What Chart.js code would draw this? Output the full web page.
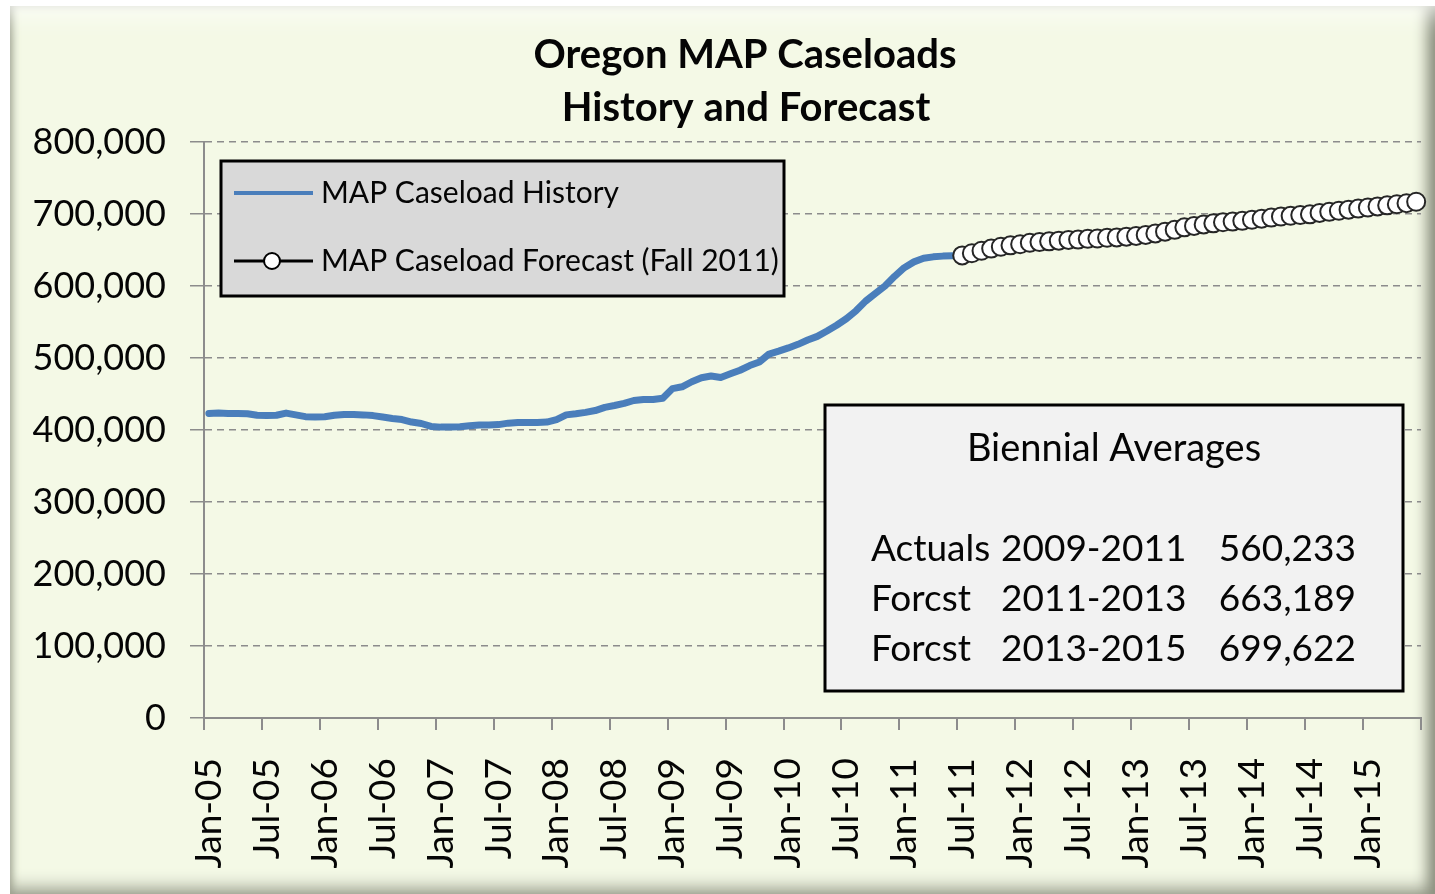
<!DOCTYPE html>
<html lang="en">
<head>
    <meta charset="UTF-8">
    <title>Oregon MAP Caseloads</title>
    <script src="https://cdn.jsdelivr.net/npm/chart.js"></script>
    <style>
        body {
            margin: 0;
            background: #ffffff;
            width: 1435px;
            height: 894px;
            overflow: hidden;
        }
        .frame {
            position: absolute;
            left: 10px;
            top: 6px;
            right: 0;
            bottom: 0;
            background: #f4f9e6;
            box-shadow: inset 0 34px 30px -30px #ffffff,
                        inset 5px 0 8px -3px #9a9e8c,
                        inset -14px 0 14px -6px #8a8e7e,
                        inset 0 -16px 16px -8px #aeb2a2;
        }
        canvas {
            position: absolute;
            left: 0;
            top: 0;
        }
    </style>
</head>
<body>
    <div class="frame"></div>
    <canvas id="caseChart" width="1435" height="894"></canvas>

    <script>
        // months shown on the category axis (Jan-05 .. Jun-15)
        const monthNames = ['Jan', 'Feb', 'Mar', 'Apr', 'May', 'Jun', 'Jul', 'Aug', 'Sep', 'Oct', 'Nov', 'Dec'];
        const yearCodes = ['05', '06', '07', '08', '09', '10', '11', '12', '13', '14', '15'];

        // MAP caseload history, Jan-05 .. Jun-11
        const historyValues = [
            423000, 423500, 423000, 423000, 422500, 420500, 420000, 420500, 423500, 421000, 418500, 418000,
            418500, 420500, 421500, 421500, 421000, 420000, 418000, 416000, 414500, 411000, 409000, 405000,
            404000, 404000, 404500, 406000, 407000, 407000, 407500, 409500, 410500, 410500, 410500, 411000,
            414500, 421000, 422500, 424500, 427000, 431500, 434000, 437000, 441000, 442500, 442500, 444000,
            457500, 460000, 467000, 472500, 475000, 473000, 478000, 483000, 489500, 494500, 505500, 509500,
            514000, 519000, 525000, 530000, 537500, 545500, 554500, 565500, 579000, 589500, 600000, 613500,
            625500, 633500, 638500, 640500, 641500, 642000
        ];

        // Fall 2011 forecast, Jul-11 .. Jun-15
        const forecastValues = [
            642500, 645500, 649000, 652000, 654500, 656500, 658000, 660000, 661000, 662000, 663000, 664000,
            664500, 665500, 666000, 667000, 667500, 668500, 669500, 671000, 673000, 675500, 678000, 681500,
            683500, 685500, 687000, 688500, 689500, 690500, 692000, 693500, 695000, 696500, 697500, 698500,
            699500, 701500, 703000, 704500, 706000, 707500, 709000, 710500, 712000, 713500, 715000, 717000
        ];

        const seriesNames = ['MAP Caseload History', 'MAP Caseload Forecast (Fall 2011)'];
        const titleLines = ['Oregon MAP Caseloads', 'History and Forecast'];
        const averageRows = [
            ['Actuals', '2009-2011', '560,233'],
            ['Forcst', '2011-2013', '663,189'],
            ['Forcst', '2013-2015', '699,622']
        ];

        const monthLabels = [];
        yearCodes.forEach(yy => {
            monthNames.forEach(m => monthLabels.push(m + '-' + yy));
        });
        monthLabels.length = historyValues.length + forecastValues.length;

        const gap = n => new Array(n).fill(null);
        const historyData = historyValues.concat(gap(forecastValues.length));
        const forecastData = gap(historyValues.length).concat(forecastValues);

        const fontFamily = 'Lato, "DejaVu Sans", sans-serif';
        const textColor = '#050505';
        const axisGray = '#8c8c8c';

        // title, legend box and the biennial averages box
        const overlayPlugin = {
            id: 'overlay',
            afterDraw(chart) {
                const ctx = chart.ctx;
                const area = chart.chartArea;
                ctx.save();

                ctx.fillStyle = textColor;
                ctx.textBaseline = 'alphabetic';
                ctx.textAlign = 'center';
                ctx.font = 'bold 40px ' + fontFamily;
                ctx.fillText(titleLines[0], 745, 68);
                ctx.fillText(titleLines[1], 746, 121);

                // legend
                const lx = area.left + 17, ly = area.top + 19, lw = 563, lh = 135;
                ctx.fillStyle = '#d9d9d9';
                ctx.fillRect(lx, ly, lw, lh);
                ctx.strokeStyle = '#000000';
                ctx.lineWidth = 3;
                ctx.strokeRect(lx, ly, lw, lh);

                const ds = chart.data.datasets;
                const rows = [ly + 32, ly + 100];
                ds.forEach((d, i) => {
                    const y = rows[i];
                    ctx.beginPath();
                    ctx.moveTo(lx + 13, y);
                    ctx.lineTo(lx + 92, y);
                    ctx.strokeStyle = d.borderColor;
                    ctx.lineWidth = i === 0 ? 4 : 3;
                    ctx.stroke();
                    if (d.pointRadius > 0) {
                        ctx.beginPath();
                        ctx.arc(lx + 51, y, 8, 0, Math.PI * 2);
                        ctx.fillStyle = d.pointBackgroundColor;
                        ctx.fill();
                        ctx.lineWidth = 2;
                        ctx.strokeStyle = '#000000';
                        ctx.stroke();
                    }
                    ctx.fillStyle = textColor;
                    ctx.textAlign = 'left';
                    ctx.textBaseline = 'middle';
                    ctx.font = '30px ' + fontFamily;
                    ctx.fillText(d.label, lx + 100, y);
                });

                // biennial averages
                const bx = 825, by = 405, bw = 578, bh = 286;
                ctx.fillStyle = '#f2f2f2';
                ctx.fillRect(bx, by, bw, bh);
                ctx.strokeStyle = '#000000';
                ctx.lineWidth = 3;
                ctx.strokeRect(bx, by, bw, bh);

                ctx.fillStyle = textColor;
                ctx.textBaseline = 'alphabetic';
                ctx.font = '38px ' + fontFamily;
                ctx.textAlign = 'center';
                ctx.fillText('Biennial Averages', bx + 289, by + 56);
                ctx.font = '37px ' + fontFamily;
                averageRows.forEach((r, i) => {
                    const y = by + 156 + i * 50;
                    ctx.textAlign = 'left';
                    ctx.fillText(r[0], bx + 46, y);
                    ctx.fillText(r[1], bx + 176, y);
                    ctx.textAlign = 'right';
                    ctx.fillText(r[2], bx + 531, y);
                });

                ctx.restore();
            }
        };

        new Chart(document.getElementById('caseChart'), {
            type: 'line',
            data: {
                labels: monthLabels,
                datasets: [{
                    label: seriesNames[0],
                    data: historyData,
                    borderColor: '#4a7ebb',
                    borderWidth: 7,
                    borderCapStyle: 'round',
                    borderJoinStyle: 'round',
                    pointRadius: 0,
                    spanGaps: false,
                    order: 1
                }, {
                    label: seriesNames[1],
                    data: forecastData,
                    borderColor: '#000000',
                    borderWidth: 2,
                    pointRadius: 9,
                    pointBackgroundColor: '#ffffff',
                    pointBorderColor: '#262626',
                    pointBorderWidth: 2,
                    clip: false,
                    order: 0
                }]
            },
            options: {
                responsive: false,
                animation: false,
                layout: { padding: { left: 0, top: 142, right: 14, bottom: 0 } },
                plugins: {
                    legend: { display: false },
                    title: { display: false },
                    tooltip: { enabled: false }
                },
                scales: {
                    x: {
                        type: 'category',
                        offset: true,
                        grid: {
                            offset: true,
                            drawOnChartArea: false,
                            drawTicks: true,
                            tickLength: 12,
                            lineWidth: 2,
                            tickColor: c => (c.index === undefined || c.index % 6 === 0) ? axisGray : 'rgba(0,0,0,0)'
                        },
                        border: { display: true, color: axisGray, width: 2 },
                        ticks: {
                            autoSkip: false,
                            minRotation: 90,
                            maxRotation: 90,
                            padding: 28,
                            color: textColor,
                            font: { family: fontFamily, size: 37 },
                            callback: (v, i) => i % 6 === 0 ? monthLabels[i] : ''
                        },
                        afterFit: s => {
                            s.height = 176;
                            s.paddingLeft = 0;
                            s.paddingRight = 0;
                        }
                    },
                    y: {
                        min: 0,
                        max: 800000,
                        grid: {
                            color: axisGray,
                            lineWidth: 1.5,
                            tickLength: 14,
                            tickColor: axisGray
                        },
                        border: { display: true, color: axisGray, width: 2, dash: [7, 5] },
                        ticks: {
                            stepSize: 100000,
                            padding: 24,
                            color: textColor,
                            font: { family: fontFamily, size: 36 },
                            callback: v => v.toLocaleString('en-US')
                        },
                        afterFit: s => {
                            s.width = 204;
                            s.paddingTop = 0;
                            s.paddingBottom = 0;
                        }
                    }
                }
            },
            plugins: [overlayPlugin]
        });
    </script>
</body>
</html>
